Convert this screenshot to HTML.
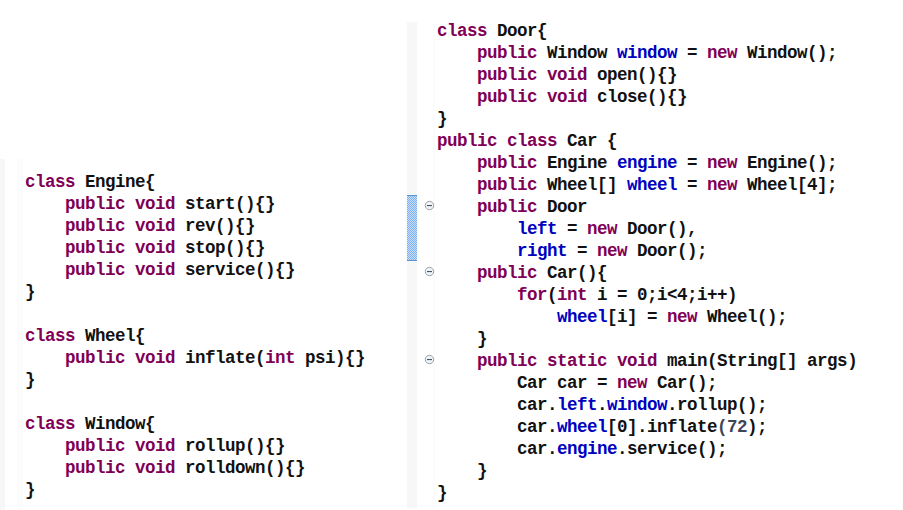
<!DOCTYPE html>
<html><head><meta charset="utf-8">
<style>
html,body{margin:0;padding:0;background:#fff;width:903px;height:510px;overflow:hidden;position:relative}
pre{margin:0;position:absolute;font-family:"Liberation Mono",monospace;font-weight:bold;font-size:17.5px;letter-spacing:-0.5px;line-height:22px;color:#111;white-space:pre}
.k{color:#7F0055}
.f{color:#0000C0}
#L{left:25px;top:171px}
#R{left:437px;top:20px}
.strip{position:absolute;left:407px;top:22px;width:10px;height:486px;background:#f7f7f7}
.thumb{position:absolute;left:407px;top:195px;width:10px;height:66px;background:conic-gradient(#7eb2ef 25%,#c4defb 0 50%,#7eb2ef 0 75%,#c4defb 0) 0 0/2px 2px;border-top:1px solid #5f92d2;border-bottom:1px solid #5f92d2;box-sizing:border-box}
.fold{position:absolute}
</style></head><body>
<div class="strip"></div>
<div style="position:absolute;left:0;top:159px;width:5px;height:351px;background:#f7f7f7"></div>
<div style="position:absolute;left:17px;top:159px;width:6px;height:351px;background:#fcfcfc"></div>
<div style="position:absolute;left:433px;top:22px;width:2px;height:486px;background:#fcfcfc"></div>
<div class="thumb"></div>
<svg class="fold" style="left:424px;top:200px" width="12" height="12" viewBox="0 0 12 12"><circle cx="5.5" cy="5.5" r="4.2" fill="#eef3f8" stroke="#9ca2a8" stroke-width="1"/><line x1="3" y1="5.6" x2="8" y2="5.6" stroke="#3a4250" stroke-width="1"/></svg>
<svg class="fold" style="left:424px;top:266px" width="12" height="12" viewBox="0 0 12 12"><circle cx="5.5" cy="5.5" r="4.2" fill="#eef3f8" stroke="#9ca2a8" stroke-width="1"/><line x1="3" y1="5.6" x2="8" y2="5.6" stroke="#3a4250" stroke-width="1"/></svg>
<svg class="fold" style="left:424px;top:354px" width="12" height="12" viewBox="0 0 12 12"><circle cx="5.5" cy="5.5" r="4.2" fill="#eef3f8" stroke="#9ca2a8" stroke-width="1"/><line x1="3" y1="5.6" x2="8" y2="5.6" stroke="#3a4250" stroke-width="1"/></svg>
<pre id="L"><span class="k">class</span> Engine{
    <span class="k">public</span> <span class="k">void</span> start(){}
    <span class="k">public</span> <span class="k">void</span> rev(){}
    <span class="k">public</span> <span class="k">void</span> stop(){}
    <span class="k">public</span> <span class="k">void</span> service(){}
}

<span class="k">class</span> Wheel{
    <span class="k">public</span> <span class="k">void</span> inflate(<span class="k">int</span> psi){}
}

<span class="k">class</span> Window{
    <span class="k">public</span> <span class="k">void</span> rollup(){}
    <span class="k">public</span> <span class="k">void</span> rolldown(){}
}</pre>
<pre id="R"><span class="k">class</span> Door{
    <span class="k">public</span> Window <span class="f">window</span> = <span class="k">new</span> Window();
    <span class="k">public</span> <span class="k">void</span> open(){}
    <span class="k">public</span> <span class="k">void</span> close(){}
}
<span class="k">public</span> <span class="k">class</span> Car {
    <span class="k">public</span> Engine <span class="f">engine</span> = <span class="k">new</span> Engine();
    <span class="k">public</span> Wheel[] <span class="f">wheel</span> = <span class="k">new</span> Wheel[4];
    <span class="k">public</span> Door
        <span class="f">left</span> = <span class="k">new</span> Door(),
        <span class="f">right</span> = <span class="k">new</span> Door();
    <span class="k">public</span> Car(){
        <span class="k">for</span>(<span class="k">int</span> i = 0;i&lt;4;i++)
            <span class="f">wheel</span>[i] = <span class="k">new</span> Wheel();
    }
    <span class="k">public</span> <span class="k">static</span> <span class="k">void</span> main(String[] args)
        Car car = <span class="k">new</span> Car();
        car.<span class="f">left</span>.<span class="f">window</span>.rollup();
        car.<span class="f">wheel</span>[0].inflate<span style="color:#3c4658">(72</span>);
        car.<span class="f">engine</span>.service();
    }
}</pre>
</body></html>
